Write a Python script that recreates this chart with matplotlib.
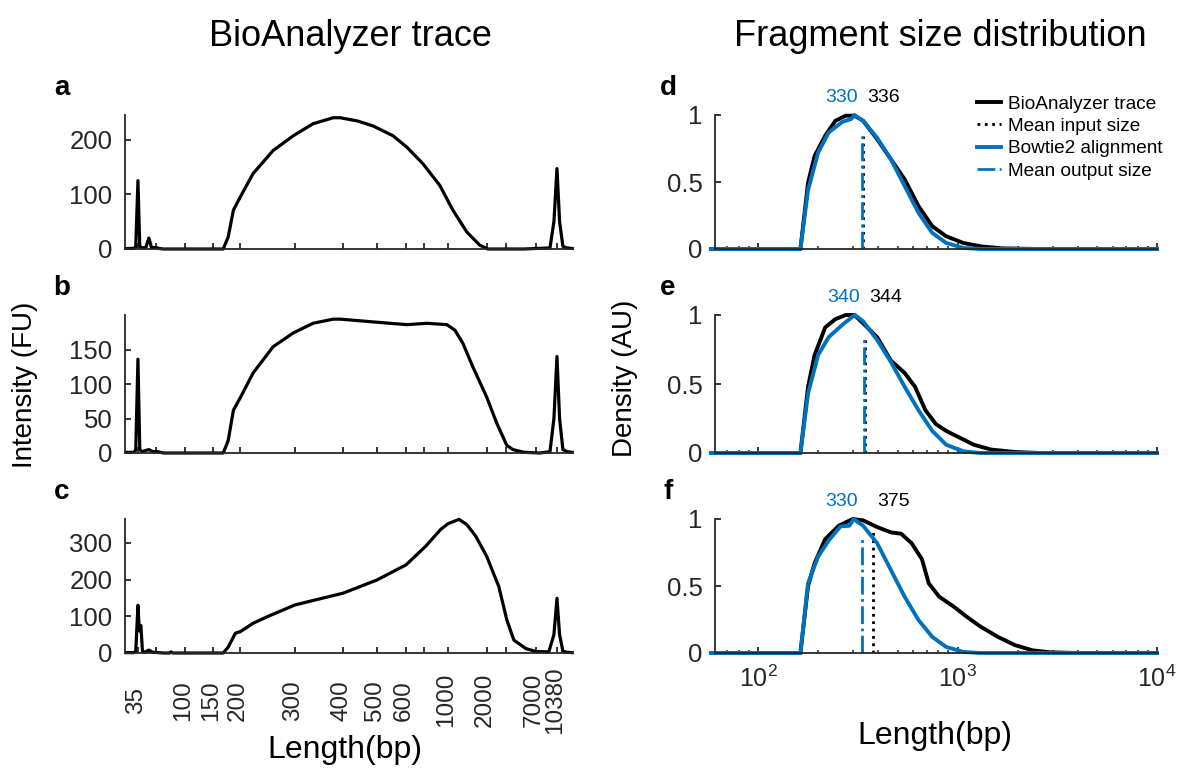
import numpy as np
import matplotlib
matplotlib.use('Agg')
import matplotlib.pyplot as plt
import matplotlib.transforms as mtransforms
from matplotlib.ticker import FixedLocator, NullLocator, LogLocator, NullFormatter

plt.rcParams['font.family'] = ['Liberation Sans', 'DejaVu Sans']
plt.rcParams['mathtext.fontset'] = 'custom'
plt.rcParams['mathtext.rm'] = 'Liberation Sans'

# HS DNA ladder sizes and their migration times (s)
ladder_bp = [35, 50, 100, 150, 200, 300, 400, 500, 600, 700, 1000, 2000, 3000, 7000, 10380]
ladder_time = [43.0, 45.9, 50.6, 55.2, 59.6, 68.5, 76.3, 81.8, 86.5, 89.4, 93.3, 99.6, 102.7, 107.6, 111.0]
ladder_labels = ['35', '', '100', '150', '200', '300', '400', '500', '600', '', '1000', '2000', '', '7000', '10380']

# BioAnalyzer traces (bp, FU)
a_bp = [27.5, 32, 33.5, 35, 36.3, 38, 41, 43.5, 46, 50, 54, 60, 100, 167, 176, 186, 200, 220, 255, 296,
        334, 377, 393, 440, 487, 553, 605, 694, 888, 1093, 1402, 1766, 2043, 5000, 9100, 9800, 10380,
        10900, 11600, 12500, 13800]
a_fu = [1, 1, 4, 125, 5, 2, 3, 20, 2, 3, 1, 0, 0, 0, 22, 71, 95, 138, 180, 207,
        229, 240, 240, 234, 225, 207, 186, 156, 116, 71, 31, 7, 0, 0, 2, 50, 147,
        50, 5, 2, 1]
b_bp = [27.5, 32, 33.5, 35, 36.3, 38, 43.5, 47, 52, 60, 100, 167, 176, 186, 200, 220, 255, 296, 334, 377,
        393, 487, 605, 732, 985, 1133, 1306, 1559, 2000, 2476, 3086, 3655, 5000, 7546, 9100, 9800, 10380,
        10900, 11600, 12500, 13800]
b_fu = [1, 1, 4, 136, 5, 2, 5, 2, 2, 0, 0, 0, 18, 62, 80, 116, 154, 174, 188, 194,
        194, 190, 186, 188, 186, 178, 159, 125, 81, 43, 11, 5, 1, 0, 2, 50, 140,
        50, 5, 2, 1]
c_bp = [27.5, 32, 33.5, 35, 36, 37.1, 38.3, 40, 43.5, 47, 53, 60, 70, 72, 75, 100, 167, 176, 190, 200,
        220, 246, 300, 340, 400, 500, 600, 720, 900, 1000, 1220, 1400, 1645, 2000, 2584, 3086, 3762,
        5277, 7000, 8900, 9800, 10380, 10900, 11600, 12500, 13800]
c_fu = [1, 1, 4, 130, 60, 75, 5, 2, 8, 2, 1, 0, 0, 3, 0, 0, 0, 16, 54, 58,
        81, 100, 131, 145, 163, 199, 240, 291, 337, 352, 364, 350, 318, 263, 181, 90, 35,
        12, 4, 3, 50, 149, 50, 5, 2, 1]

# normalised size distributions (bp, density)
d_in_bp = [58, 163, 178, 192, 217, 244, 275, 304, 336, 395, 463, 543, 637, 747, 877, 1070, 1306, 1660, 2500, 10000]
d_in_y = [0, 0, 0.495, 0.695, 0.845, 0.957, 0.995, 0.995, 0.957, 0.82, 0.67, 0.52, 0.32, 0.17, 0.095, 0.045, 0.02, 0.005, 0, 0]
d_out_bp = [58, 163, 178, 200, 226, 265, 293, 304, 336, 395, 463, 543, 637, 747, 877, 1070, 1306, 10000]
d_out_y = [0, 0, 0.44, 0.72, 0.87, 0.95, 0.97, 1.0, 0.957, 0.83, 0.67, 0.47, 0.27, 0.12, 0.045, 0.008, 0, 0]

e_in_bp = [58, 163, 178, 192, 217, 244, 275, 304, 336, 395, 463, 543, 612, 690, 778, 877, 1028, 1206, 1472, 1946, 2600, 10000]
e_in_y = [0, 0, 0.48, 0.71, 0.91, 0.97, 1.0, 1.0, 0.94, 0.84, 0.67, 0.58, 0.48, 0.31, 0.21, 0.16, 0.11, 0.06, 0.025, 0.007, 0, 0]
e_out_bp = [58, 163, 178, 200, 226, 265, 299, 306, 336, 395, 463, 543, 637, 747, 877, 1070, 1300, 10000]
e_out_y = [0, 0, 0.43, 0.71, 0.84, 0.93, 0.99, 1.0, 0.955, 0.82, 0.66, 0.48, 0.31, 0.16, 0.06, 0.012, 0, 0]

f_in_bp = [58, 163, 178, 192, 217, 254, 298, 336, 395, 463, 522, 588, 663, 717, 809, 949, 1113, 1306, 1595, 1946, 2376, 2900, 4000, 10000]
f_in_y = [0, 0, 0.50, 0.67, 0.85, 0.95, 1.0, 0.99, 0.94, 0.90, 0.89, 0.82, 0.70, 0.52, 0.42, 0.35, 0.27, 0.196, 0.12, 0.058, 0.02, 0.005, 0, 0]
f_out_bp = [58, 163, 178, 200, 226, 259, 287, 301, 336, 395, 463, 543, 637, 747, 877, 1070, 1300, 10000]
f_out_y = [0, 0, 0.52, 0.72, 0.84, 0.945, 0.95, 1.0, 0.95, 0.82, 0.62, 0.42, 0.246, 0.12, 0.045, 0.008, 0, 0]

mean_in = [336, 344, 375]
mean_out = [330, 340, 330]
mean_in_top = [0.845, 0.83, 0.9]
mean_out_top = [0.845, 0.83, 0.85]

BLUE = '#0072BD'
GREY = '#262626'
W, H = 1178, 768

# ladder based scale: bp <-> migration time, log-linear between ladder peaks
lb = np.log10(ladder_bp)
lt = np.array(ladder_time)
s0 = (lt[1] - lt[0]) / (lb[1] - lb[0])
s1 = (lt[-1] - lt[-2]) / (lb[-1] - lb[-2])


def bp_to_time(x):
    x = np.log10(np.clip(np.asarray(x, float), 1e-3, None))
    t = np.interp(x, lb, lt)
    t = np.where(x < lb[0], lt[0] + (x - lb[0]) * s0, t)
    t = np.where(x > lb[-1], lt[-1] + (x - lb[-1]) * s1, t)
    return t


def time_to_bp(t):
    t = np.asarray(t, float)
    x = np.interp(t, lt, lb)
    x = np.where(t < lt[0], lb[0] + (t - lt[0]) / s0, x)
    x = np.where(t > lt[-1], lb[-1] + (t - lt[-1]) / s1, x)
    return 10 ** np.clip(x, -3, 8)


def style(ax):
    for s in ['top', 'right']:
        ax.spines[s].set_visible(False)
    for s in ['left', 'bottom']:
        ax.spines[s].set_linewidth(1.3)
        ax.spines[s].set_color(GREY)
    ax.tick_params(direction='in', length=4, width=1.3, colors=GREY, labelsize=18.5, pad=9)


fig = plt.figure(figsize=(W / 100, H / 100), dpi=100)

tops = [115, 315, 519]
bots = [249, 453, 653]

left_data = [(a_bp, a_fu, 245, [0, 100, 200]),
             (b_bp, b_fu, 200, [0, 50, 100, 150]),
             (c_bp, c_fu, 365, [0, 100, 200, 300])]
right_data = [(d_in_bp, d_in_y, d_out_bp, d_out_y),
              (e_in_bp, e_in_y, e_out_bp, e_out_y),
              (f_in_bp, f_in_y, f_out_bp, f_out_y)]

for i in range(3):
    rect_y = 1 - bots[i] / H
    rect_h = (bots[i] - tops[i]) / H

    # left: BioAnalyzer trace
    ax = fig.add_axes([125 / W, rect_y, 448 / W, rect_h])
    style(ax)
    bp, fu, ytop, yt = left_data[i]
    ax.set_xscale('function', functions=(bp_to_time, time_to_bp))
    ax.plot(bp, fu, color='black', lw=2.3, clip_on=False)
    ax.set_xlim(float(time_to_bp(40.9)), float(time_to_bp(113.6)))
    ax.set_ylim(0, ytop)
    ax.set_yticks(yt)
    ax.xaxis.set_major_locator(FixedLocator(ladder_bp))
    ax.xaxis.set_minor_locator(NullLocator())
    if i == 2:
        ax.set_xticklabels(ladder_labels, rotation=90)
        ax.tick_params(axis='x', pad=34, labelsize=17.5)
        shift = mtransforms.ScaledTranslation(-2 / 100, 0, fig.dpi_scale_trans)
        for lbl in ax.get_xticklabels():
            lbl.set_verticalalignment('center')
            lbl.set_transform(lbl.get_transform() + shift)
    else:
        ax.tick_params(labelbottom=False)
    fig.text(62 / W, 1 - (tops[i] - 27) / H, 'abc'[i], fontsize=20, fontweight='bold',
             ha='center', va='center')

    # right: size distribution
    ax2 = fig.add_axes([715 / W, rect_y, 442 / W, rect_h])
    style(ax2)
    in_bp, in_y, out_bp, out_y = right_data[i]
    h1, = ax2.plot(in_bp, in_y, color='black', lw=2.8, clip_on=False, label='BioAnalyzer trace')
    h2, = ax2.plot([mean_in[i], mean_in[i]], [0, mean_in_top[i]], color='black', ls=':', lw=2,
                   label='Mean input size')
    h3, = ax2.plot(out_bp, out_y, color=BLUE, lw=2.8, clip_on=False, label='Bowtie2 alignment')
    h4, = ax2.plot([mean_out[i], mean_out[i]], [0, mean_out_top[i]], color=BLUE, ls='-.', lw=2,
                   label='Mean output size')
    ax2.set_xscale('log')
    ax2.set_xlim(60.8, 1e4)
    ax2.set_ylim(0, 1)
    ax2.set_yticks([0, 0.5, 1])
    ax2.set_yticklabels(['0', '0.5', '1'])
    ax2.xaxis.set_major_locator(LogLocator(base=10, numticks=10))
    ax2.xaxis.set_minor_locator(LogLocator(base=10, subs=np.arange(2, 10), numticks=10))
    ax2.xaxis.set_minor_formatter(NullFormatter())
    ax2.tick_params(axis='x', which='minor', direction='in', length=2.5, width=1.1, colors=GREY)
    if i == 2:
        ax2.tick_params(axis='x', pad=9, labelsize=18)
    else:
        ax2.tick_params(labelbottom=False)
    ax2.annotate(str(mean_out[i]), xy=(mean_out[i], 1.13), xytext=(-3, 0), textcoords='offset points',
                 ha='right', va='center', color=BLUE, fontsize=14, annotation_clip=False)
    ax2.annotate(str(mean_in[i]), xy=(mean_in[i], 1.13), xytext=(3, 0), textcoords='offset points',
                 ha='left', va='center', color='black', fontsize=14, annotation_clip=False)
    fig.text(668 / W, 1 - (tops[i] - 27) / H, 'def'[i], fontsize=20, fontweight='bold',
             ha='center', va='center')
    if i == 0:
        ax2.legend(handles=[h1, h2, h3, h4], loc='upper left', bbox_to_anchor=(967 / W, 1 - 86 / H),
                   bbox_transform=fig.transFigure, frameon=False, fontsize=13.7, borderpad=0,
                   labelspacing=0.26, handlelength=1.3, handletextpad=0.35)

fig.text(350 / W, 1 - 36 / H, 'BioAnalyzer trace', fontsize=26, ha='center', va='center')
fig.text(940 / W, 1 - 36 / H, 'Fragment size distribution', fontsize=26, ha='center', va='center')
fig.text(25 / W, 1 - 385 / H, 'Intensity (FU)', fontsize=20, rotation=90, ha='center', va='center')
fig.text(625 / W, 1 - 378 / H, 'Density (AU)', fontsize=20, rotation=90, ha='center', va='center')
fig.text(345 / W, 1 - 750 / H, 'Length(bp)', fontsize=23, ha='center', va='center')
fig.text(935 / W, 1 - 736 / H, 'Length(bp)', fontsize=23, ha='center', va='center')

fig.savefig('out.png', dpi=100)
